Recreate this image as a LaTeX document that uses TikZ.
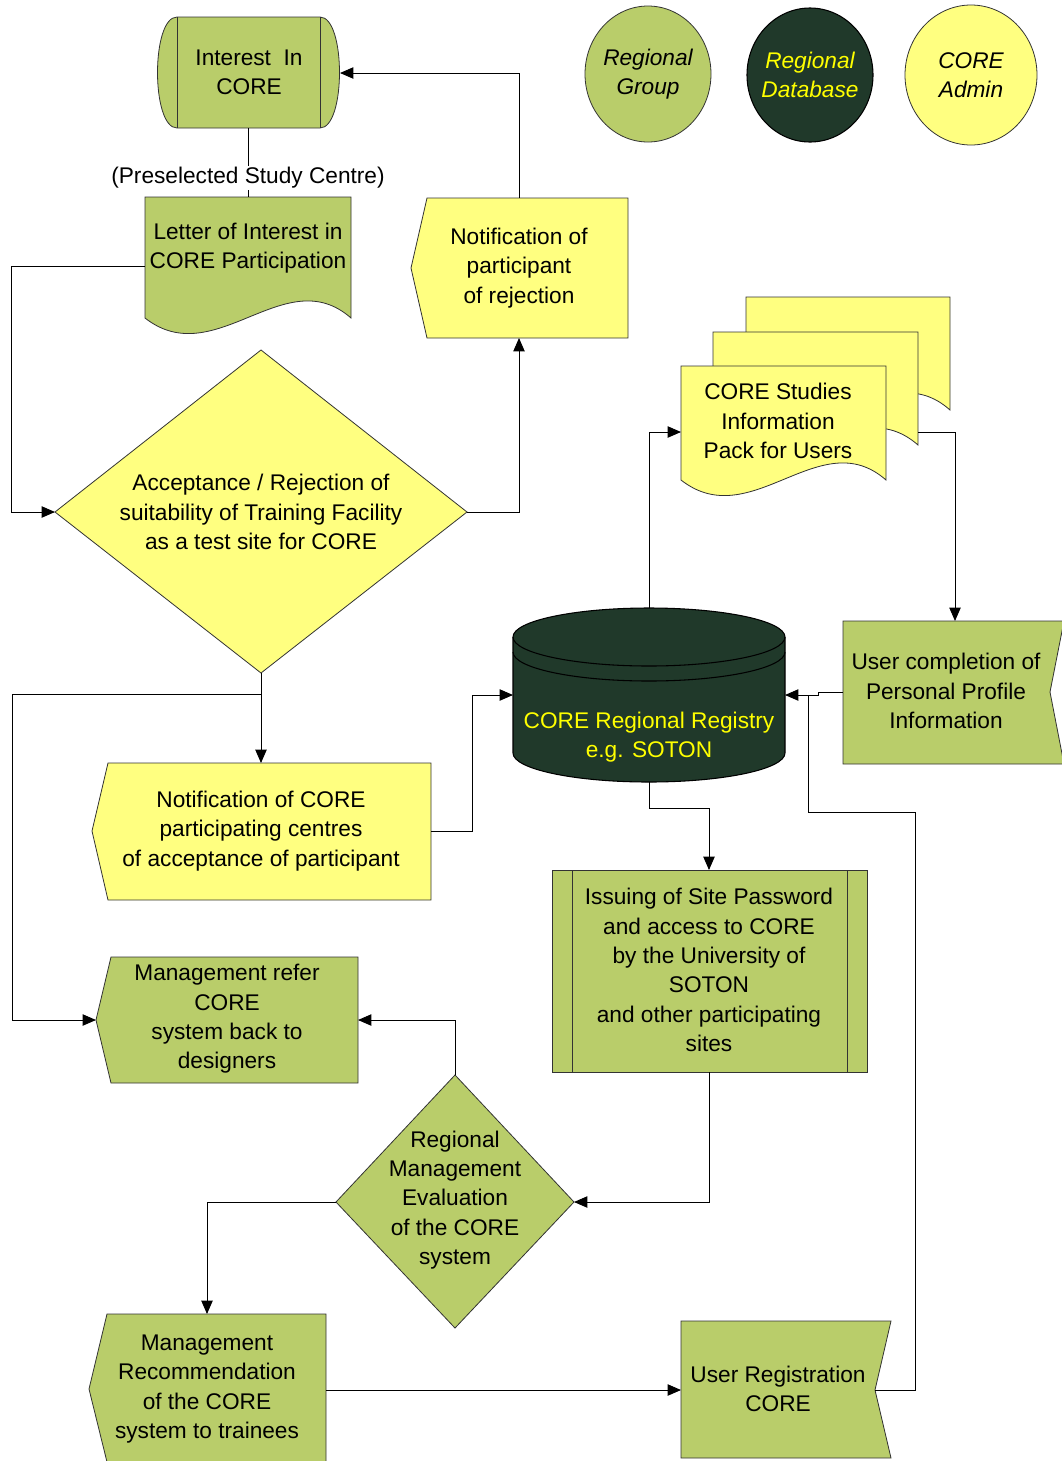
\documentclass[tikz,border=0pt]{standalone}
\usepackage{fontspec}
\setmainfont{Liberation Sans}
\usetikzlibrary{arrows.meta}
\definecolor{leaf}{RGB}{185,205,106}
\definecolor{lemon}{RGB}{255,255,128}
\definecolor{pine}{RGB}{32,57,42}
\definecolor{gold}{RGB}{255,255,0}

\begin{document}
\begin{tikzpicture}[x=0.75pt,y=-0.75pt,
  outline/.style={draw=black!80,line width=0.6pt},
  darkline/.style={draw=black,line width=0.8pt},
  txt/.style={align=center,font=\fontsize{17}{22}\selectfont,inner sep=0pt},
  legtxt/.style={align=center,font=\fontsize{17}{22}\selectfont\itshape,inner sep=0pt},
  conn/.style={draw=black,line width=0.7pt},
  arr/.style={conn,-{Triangle[length=10pt,width=8.5pt]}},
]
\useasboundingbox (0,0) rectangle (1061,1461);
\fill[white] (0,0) rectangle (1061,1461);

% ---- legend ----
\filldraw[outline,fill=leaf]  (648,74) ellipse [x radius=63,y radius=68];
\node[legtxt] (legGroup) at (648,74) {Regional\\Group};
\filldraw[darkline,fill=pine]  (810,75) ellipse [x radius=63,y radius=67];
\node[legtxt,text=gold] (legDb) at (810,75) {Regional\\Database};
\filldraw[outline,fill=lemon] (971,75) ellipse [x radius=66,y radius=70];
\node[legtxt] (legAdmin) at (971,75) {CORE\\Admin};

% ---- Interest in CORE (terminal with side bars) ----
\filldraw[outline,fill=leaf] (177,17) -- (320,17) .. controls (346,17) and (346,128) .. (320,128)
  -- (177,128) .. controls (151,128) and (151,17) .. (177,17) -- cycle;
\draw[outline] (177,17) -- (177,128) (320,17) -- (320,128);
\node[txt] (interest) at (249,72) {Interest~ In\\CORE};
\coordinate (interest-r) at (340,73);
\coordinate (interest-b) at (248,128);

% ---- Letter of interest (document) ----
\filldraw[outline,fill=leaf] (145,197) -- (351,197) -- (351,318)
  .. controls (285,260) and (215,373) .. (145,318) -- cycle;
\node[txt] (letter) at (248,248) {Letter of Interest in\\CORE Participation};
\coordinate (letter-t) at (248,197);
\coordinate (letter-l) at (145,266);

\draw[conn] (interest-b) -- (letter-t);
\node[txt,fill=white,inner sep=1pt] (presel) at (248,178) {(Preselected Study Centre)};

% ---- Notification of rejection ----
\filldraw[outline,fill=lemon] (427,198) -- (628,198) -- (628,338) -- (427,338) -- (411,268) -- cycle;
\node[txt] (reject) at (519,268) {Notification of\\participant\\of rejection};
\coordinate (rej-t) at (519,198);
\coordinate (rej-b) at (519,338);

% ---- Acceptance decision ----
\filldraw[outline,fill=lemon] (261,350) -- (467,512) -- (261,673) -- (55,512) -- cycle;
\node[txt] (accept) at (261,512) {Acceptance / Rejection of\\suitability of Training Facility\\as a test site for CORE};
\coordinate (acc-l) at (55,512);
\coordinate (acc-r) at (467,512);
\coordinate (acc-b) at (261,673);
\coordinate (acc-split) at (261,694);

% ---- Information pack (stack of documents) ----
\filldraw[outline,fill=lemon] (746,297) -- (950,297) -- (950,410)
  .. controls (885,352) and (815,465) .. (746,410) -- cycle;
\filldraw[outline,fill=lemon] (713,332) -- (918,332) -- (918,445)
  .. controls (852,387) and (783,500) .. (713,445) -- cycle;
\filldraw[outline,fill=lemon] (681,366) -- (886,366) -- (886,480)
  .. controls (820,422) and (751,535) .. (681,480) -- cycle;
\node[txt] (pack) at (778,421) {CORE Studies\\Information\\Pack for Users};
\coordinate (pack-l) at (681,432);
\coordinate (mid-r) at (918,432);

% ---- Regional registry (database cylinder) ----
\fill[pine] (513,637) -- (513,753) arc[start angle=180,end angle=0,x radius=136,y radius=29]
  -- (785,637) arc[start angle=0,end angle=-180,x radius=136,y radius=29] -- cycle;
\draw[darkline] (513,637) -- (513,753) arc[start angle=180,end angle=0,x radius=136,y radius=29] -- (785,637);
\draw[darkline] (649,637) ellipse [x radius=136,y radius=29];
\draw[darkline] (513,652) arc[start angle=180,end angle=0,x radius=136,y radius=29];
\node[txt,text=gold] (registry) at (649,737) {CORE Regional Registry\\e.g. SOTON};
\coordinate (db-t) at (649,608);
\coordinate (db-b) at (649,782);
\coordinate (db-l) at (513,695);
\coordinate (db-r) at (785,695);
\coordinate (db-join) at (808,695);

% ---- User completion of profile ----
\filldraw[outline,fill=leaf] (843,621) -- (1064,621) -- (1050,692) -- (1064,764) -- (843,764) -- cycle;
\node[txt] (profile) at (946,691) {User completion of\\Personal Profile\\Information};
\coordinate (prof-t) at (955,621);
\coordinate (prof-l) at (843,692);

% ---- Notification of acceptance ----
\filldraw[outline,fill=lemon] (108,763) -- (431,763) -- (431,900) -- (108,900) -- (92,831) -- cycle;
\node[txt] (notc) at (261,831) {Notification of CORE\\participating centres\\of acceptance of participant};
\coordinate (notc-t) at (261,763);
\coordinate (notc-r) at (431,831);

% ---- Issuing of site password (predefined process) ----
\filldraw[outline,fill=leaf] (552,870) rectangle (867,1072);
\draw[outline] (572,870) -- (572,1072) (847,870) -- (847,1072);
\node[txt] (issue) at (709,970) {Issuing of Site Password\\and access to CORE\\by the University of\\SOTON\\and other participating\\sites};
\coordinate (iss-t) at (709,870);
\coordinate (iss-b) at (709,1072);

% ---- Management refer back ----
\filldraw[outline,fill=leaf] (111,957) -- (358,957) -- (358,1083) -- (111,1083) -- (96,1020) -- cycle;
\node[txt] (refer) at (227,1019) {Management refer\\CORE\\system back to\\designers};
\coordinate (refer-l) at (96,1020);
\coordinate (refer-r) at (358,1020);

% ---- Regional management evaluation ----
\filldraw[outline,fill=leaf] (455,1075) -- (574,1202) -- (455,1328) -- (336,1202) -- cycle;
\node[txt] (eval) at (455,1200) {Regional\\Management\\Evaluation\\of the CORE\\system};
\coordinate (eval-t) at (455,1075);
\coordinate (eval-l) at (336,1202);
\coordinate (eval-r) at (574,1202);

% ---- Management recommendation ----
\filldraw[outline,fill=leaf] (107,1314) -- (326,1314) -- (326,1466) -- (108,1466) -- (89,1389) -- cycle;
\node[txt] (recom) at (207,1389) {Management\\Recommendation\\of the CORE\\system to trainees};
\coordinate (rec-t) at (207,1314);
\coordinate (rec-r) at (326,1390);

% ---- User registration ----
\filldraw[outline,fill=leaf] (681,1321) -- (891,1321) -- (875,1390) -- (891,1458) -- (681,1458) -- cycle;
\node[txt] (reg) at (778,1389) {User Registration\\CORE};
\coordinate (reg-l) at (681,1390);
\coordinate (reg-r) at (875,1390);

% ---- connectors ----
\draw[arr] (rej-t) |- (interest-r);
\draw[arr] (letter-l) -- (11,266) |- (acc-l);
\draw[arr] (acc-r) -| (rej-b);
\draw[arr] (acc-b) -- (notc-t);
\draw[arr] (acc-split) -- (12,694) |- (refer-l);
\draw[arr] (notc-r) -- (472,831) |- (db-l);
\draw[arr] (db-t) |- (pack-l);
\draw[arr] (mid-r) -| (prof-t);
\draw[arr] (prof-l) -- (818,692) -- (818,695) -- (db-r);
\draw[conn] (reg-r) -- (915,1390) |- (808,812) -- (db-join);
\draw[arr] (db-b) -- (649,808) -| (iss-t);
\draw[arr] (iss-b) |- (eval-r);
\draw[arr] (eval-t) |- (refer-r);
\draw[arr] (eval-l) -| (rec-t);
\draw[arr] (rec-r) -- (reg-l);
\end{tikzpicture}
\end{document}
